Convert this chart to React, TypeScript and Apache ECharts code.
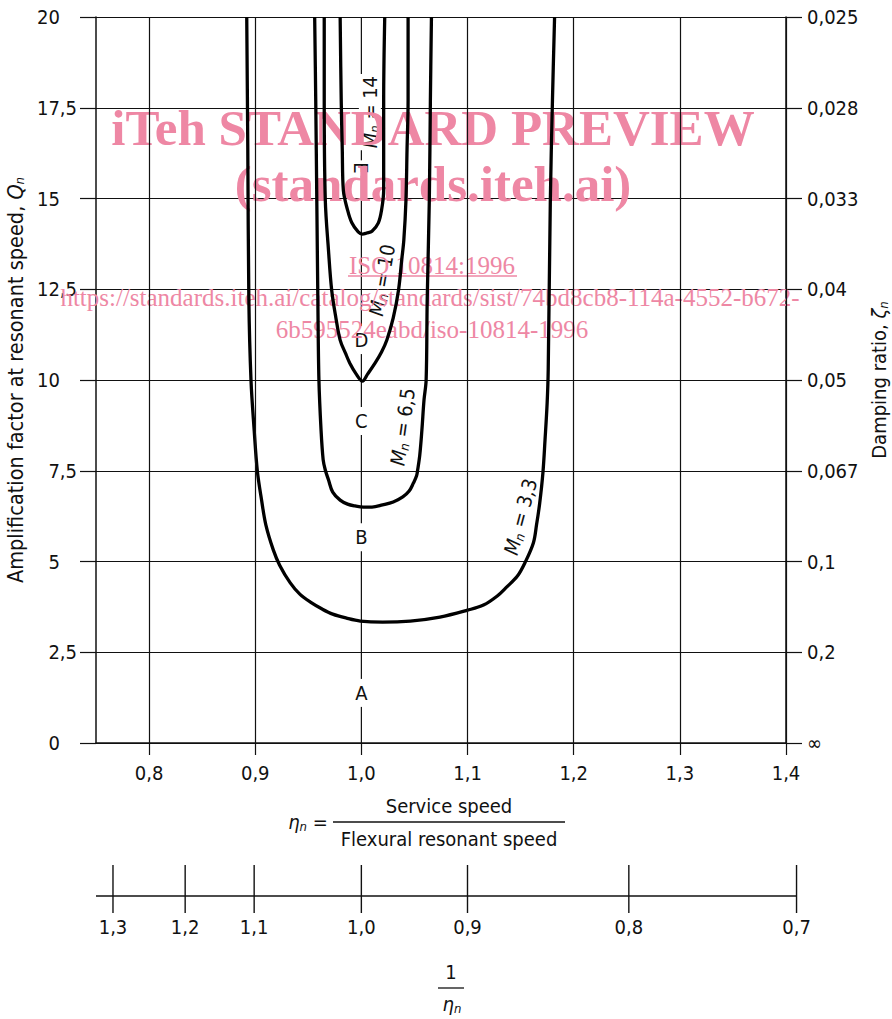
import React, { useEffect, useRef } from 'react';
import * as echarts from 'echarts';

const FONT = "'DejaVu Sans Condensed', 'Liberation Sans Narrow', 'DejaVu Sans', sans-serif";
const SERIF = "'Liberation Serif', 'DejaVu Serif', serif";
const INK = '#111111';
const PINK = '#ee87a4';
const FS = 20;
const WM_Z = 2.8;

// main axis (eta_n)
const etaTicks = [0.8, 0.9, 1.0, 1.1, 1.2, 1.3, 1.4];
const etaGridLines = [0.8, 0.9, 1.1, 1.2, 1.3, 1.4];
// right axis labels (damping ratio), one per 2.5 step of Q from 0 to 20
const dampingLabels = ['∞', '0,2', '0,1', '0,067', '0,05', '0,04', '0,033', '0,028', '0,025'];
// secondary scale 1/eta_n : labels and their position read on the eta_n scale
const recipLabels = ['1,3', '1,2', '1,1', '1,0', '0,9', '0,8', '0,7'];
const recipPositions = [0.766, 0.834, 0.899, 1.0, 1.1, 1.252, 1.41];

// curves [eta_n, Q_n]
const curveM33: [number, number][] = [
  [0.892, 20], [0.893, 16.34], [0.894, 12.2], [0.896, 10.0], [0.899, 8.62], [0.902, 7.49],
  [0.906, 6.69], [0.910, 6.01], [0.917, 5.32], [0.923, 4.9], [0.933, 4.41], [0.942, 4.1],
  [0.952, 3.88], [0.963, 3.69], [0.973, 3.55], [0.986, 3.44], [0.999, 3.36], [1.02, 3.33],
  [1.046, 3.36], [1.074, 3.47], [1.1, 3.66], [1.115, 3.8], [1.128, 4.05], [1.137, 4.3],
  [1.147, 4.6], [1.154, 4.96], [1.162, 5.51], [1.165, 6.01], [1.168, 6.61], [1.171, 7.44],
  [1.173, 8.35], [1.175, 9.37], [1.176, 10.28], [1.178, 14.96], [1.18, 17.71], [1.182, 20],
];
const curveM65: [number, number][] = [
  [0.956, 20], [0.957, 17.71], [0.958, 14.96], [0.959, 12.2], [0.96, 10.0], [0.962, 8.62],
  [0.964, 7.8], [0.966, 7.52], [0.969, 7.25], [0.973, 6.91], [0.98, 6.69], [0.987, 6.58],
  [0.994, 6.53], [1.002, 6.5], [1.01, 6.5], [1.02, 6.56], [1.03, 6.64], [1.039, 6.78],
  [1.045, 6.94], [1.049, 7.16], [1.052, 7.36], [1.053, 7.52], [1.055, 7.93], [1.057, 8.62],
  [1.059, 9.45], [1.061, 10.0], [1.062, 12.2], [1.064, 14.96], [1.065, 17.71], [1.066, 20],
];
const curveM10: [number, number][] = [
  [0.965, 20], [0.965, 17.71], [0.966, 14.96], [0.969, 13.58], [0.972, 12.48], [0.976, 11.71],
  [0.98, 11.1], [0.985, 10.74], [0.989, 10.47], [0.995, 10.17], [1.001, 9.97], [1.006, 10.17],
  [1.013, 10.47], [1.019, 10.77], [1.024, 11.1], [1.03, 11.71], [1.035, 12.48], [1.038, 13.31],
  [1.04, 13.86], [1.042, 14.96], [1.043, 16.34], [1.044, 17.71], [1.044, 20],
];
const curveM14: [number, number][] = [
  [0.98, 20], [0.981, 17.71], [0.982, 16.34], [0.983, 15.23], [0.987, 14.68], [0.991, 14.33],
  [0.997, 14.08], [1.001, 14.02], [1.005, 14.05], [1.01, 14.1], [1.016, 14.33], [1.019, 14.68],
  [1.021, 15.23], [1.021, 16.34], [1.021, 17.71], [1.022, 20],
];

// zone letters on the centre line
const zoneLetters = ['A', 'B', 'C', 'D', 'E'];
const zoneLetterQ = [1.38, 5.67, 8.87, 11.1, 15.84];
const zoneLetterRotate = [0, 0, 0, 0, -90];

// curve labels M_n = ...
const curveLabelValues = ['14', '10', '6,5', '3,3'];
const curveLabelAt: [number, number][] = [[1.008, 17.38], [1.0195, 12.75], [1.039, 8.71], [1.15, 6.23]];
const curveLabelRotate = [90, 80, 82, 75];
const curveLabelMasked = [true, false, false, false];

const fmtComma = (v: number, d: number) => v.toFixed(d).replace('.', ',');

function buildOption() {
  const curveSeries = [curveM33, curveM65, curveM10, curveM14].map((data) => ({
    type: 'line',
    xAxisIndex: 0,
    yAxisIndex: 0,
    data,
    smooth: 0.35,
    symbol: 'none',
    lineStyle: { color: '#000', width: 3.3 },
    z: 3,
    silent: true,
  }));

  const subRich = (fill: boolean, size: number = FS) => {
    const c = fill ? { fill: INK } : { color: INK };
    return {
      m: { fontFamily: FONT, fontSize: size, fontStyle: 'italic', lineHeight: 22, ...c },
      q: { fontFamily: FONT, fontSize: size, fontStyle: 'italic', lineHeight: 22, ...c },
      e: { fontFamily: FONT, fontSize: size, fontStyle: 'italic', lineHeight: 22, ...c },
      s: { fontFamily: FONT, fontSize: 13, fontStyle: 'italic', lineHeight: 12, verticalAlign: 'bottom', ...c },
      t: { fontFamily: FONT, fontSize: size, lineHeight: 22, ...c },
    };
  };

  const centred = { align: 'center', verticalAlign: 'middle', textAlign: 'center', textVerticalAlign: 'middle' };

  return {
    animation: false,
    backgroundColor: '#ffffff',
    textStyle: { fontFamily: FONT, color: INK },
    grid: [
      { left: 96, right: 106, top: 17, bottom: 276, outerBoundsMode: 'none', containLabel: false },
      { left: 96, right: 53, top: 866, height: 60, outerBoundsMode: 'none', containLabel: false },
    ],
    xAxis: [
      {
        type: 'value',
        gridIndex: 0,
        min: 0.75,
        max: 1.4,
        axisLine: { show: true, onZero: false, lineStyle: { color: INK, width: 1.5 } },
        axisTick: { show: true, customValues: etaTicks, length: 12, lineStyle: { color: INK, width: 1.2 } },
        axisLabel: {
          customValues: etaTicks,
          formatter: (v: number) => fmtComma(v, 1),
          margin: 20,
          color: INK,
          fontSize: FS,
          fontFamily: FONT,
        },
        splitLine: { show: false },
      },
      {
        type: 'value',
        gridIndex: 1,
        min: 0.75,
        max: 1.45,
        show: false,
      },
    ],
    yAxis: [
      {
        type: 'value',
        gridIndex: 0,
        position: 'left',
        min: 0,
        max: 20,
        interval: 2.5,
        axisLine: { show: true, lineStyle: { color: INK, width: 1.5 } },
        axisTick: { show: true, length: 16, lineStyle: { color: INK, width: 1.2 } },
        axisLabel: {
          margin: 19,
          color: INK,
          fontSize: FS,
          fontFamily: FONT,
          formatter: (v: number) => (v % 1 === 0 ? `${v}{h|,5}` : fmtComma(v, 1)),
          rich: { h: { color: 'rgba(0,0,0,0)', fontSize: FS, fontFamily: FONT } },
        },
        splitLine: { show: true, lineStyle: { color: INK, width: 1.2 } },
        name: '{t|Amplification factor at resonant speed, }{q|Q}{s|n}',
        nameLocation: 'middle',
        nameRotate: 90,
        nameGap: 66,
        nameTextStyle: { rich: subRich(false, 21.5) },
      },
      {
        type: 'value',
        gridIndex: 0,
        position: 'right',
        min: 0,
        max: 20,
        interval: 2.5,
        axisLine: { show: true, lineStyle: { color: INK, width: 1.5 } },
        axisTick: { show: true, length: 16, lineStyle: { color: INK, width: 1.2 } },
        axisLabel: {
          margin: 21,
          color: INK,
          fontSize: FS,
          fontFamily: FONT,
          formatter: (v: number) => dampingLabels[Math.round(v / 2.5)],
        },
        splitLine: { show: false },
        name: '{t|Damping ratio, }{q|ζ}{s|n}',
        nameLocation: 'middle',
        nameRotate: 90,
        nameGap: 82,
        nameTextStyle: { rich: subRich(false) },
      },
      {
        type: 'value',
        gridIndex: 1,
        min: -1,
        max: 1,
        show: false,
      },
    ],
    series: [
      {
        type: 'line',
        xAxisIndex: 0,
        yAxisIndex: 0,
        data: [[1.0, 0], [1.0, 20]],
        symbol: 'none',
        lineStyle: { color: INK, width: 1.2 },
        z: 2,
        silent: true,
        markLine: {
          silent: true,
          symbol: ['none', 'none'],
          label: { show: false },
          lineStyle: { color: INK, width: 1.2, type: 'solid' },
          data: etaGridLines.map((v) => ({ xAxis: v })),
        },
      },
      ...curveSeries,
      {
        type: 'scatter',
        xAxisIndex: 0,
        yAxisIndex: 0,
        symbolSize: 1,
        itemStyle: { color: 'rgba(0,0,0,0)', opacity: 1 },
        z: 2.5,
        silent: true,
        data: zoneLetters.map((l, i) => ({
          name: l,
          value: [1.0, zoneLetterQ[i]],
          label: { rotate: zoneLetterRotate[i] },
        })),
        label: {
          show: true,
          position: 'inside',
          formatter: (p: any) => p.name,
          fontFamily: FONT,
          fontSize: FS,
          color: INK,
          opacity: 1,
          backgroundColor: '#ffffff',
          padding: [4, 2],
        },
      },
      {
        type: 'scatter',
        xAxisIndex: 0,
        yAxisIndex: 0,
        symbolSize: 1,
        itemStyle: { color: 'rgba(0,0,0,0)', opacity: 1 },
        z: 2.5,
        silent: true,
        data: curveLabelValues.map((l, i) => ({
          name: l,
          value: curveLabelAt[i],
          label: {
            rotate: curveLabelRotate[i],
            backgroundColor: curveLabelMasked[i] ? '#ffffff' : 'transparent',
          },
        })),
        label: {
          show: true,
          position: 'inside',
          opacity: 1,
          formatter: (p: any) => `{m|M}{s|n}{t| = ${p.name}}`,
          rich: subRich(false),
          padding: [0, 2],
        },
      },
      {
        type: 'line',
        xAxisIndex: 1,
        yAxisIndex: 2,
        data: [[0.75, 0], [recipPositions[recipPositions.length - 1], 0]],
        symbol: 'none',
        lineStyle: { color: INK, width: 1.3 },
        silent: true,
      },
      {
        type: 'scatter',
        xAxisIndex: 1,
        yAxisIndex: 2,
        symbol: 'rect',
        symbolSize: [1.4, 48],
        symbolOffset: [0, -7],
        itemStyle: { color: INK, opacity: 1 },
        silent: true,
        data: recipLabels.map((l, i) => ({ name: l, value: [recipPositions[i], 0] })),
        label: {
          show: true,
          position: 'bottom',
          distance: 4,
          formatter: (p: any) => p.name,
          fontFamily: FONT,
          fontSize: FS,
          color: INK,
          opacity: 1,
        },
      },
    ],
    graphic: {
      elements: [
        // x-axis title
        {
          type: 'text',
          x: 308,
          y: 822,
          style: { text: '{e|η}{s|n}{t| =}', ...centred, rich: subRich(true) },
        },
        {
          type: 'text',
          x: 449,
          y: 806,
          style: { text: 'Service speed', font: `${FS}px ${FONT}`, fill: INK, ...centred },
        },
        {
          type: 'line',
          shape: { x1: 333, y1: 822, x2: 565, y2: 822 },
          style: { stroke: INK, lineWidth: 1.3 },
        },
        {
          type: 'text',
          x: 449,
          y: 839,
          style: { text: 'Flexural resonant speed', font: `${FS}px ${FONT}`, fill: INK, ...centred },
        },
        // 1 / eta_n
        {
          type: 'text',
          x: 451,
          y: 972,
          style: { text: '1', font: `${FS}px ${FONT}`, fill: INK, ...centred },
        },
        {
          type: 'line',
          shape: { x1: 438, y1: 988, x2: 464, y2: 988 },
          style: { stroke: INK, lineWidth: 1.3 },
        },
        {
          type: 'text',
          x: 452,
          y: 1004,
          style: { text: '{e|η}{s|n}', ...centred, rich: subRich(true) },
        },
        // watermark
        {
          type: 'text', x: 433, y: 128, z: WM_Z,
          style: { text: 'iTeh STANDARD PREVIEW', font: `bold 51px ${SERIF}`, fill: PINK, ...centred },
        },
        {
          type: 'text', x: 433, y: 184, z: WM_Z,
          style: { text: '(standards.iteh.ai)', font: `bold 51px ${SERIF}`, fill: PINK, ...centred },
        },
        {
          type: 'text', x: 432, y: 265, z: WM_Z,
          style: { text: 'ISO 10814:1996', font: `25px ${SERIF}`, fill: PINK, ...centred },
        },
        {
          type: 'line', z: WM_Z,
          shape: { x1: 348, y1: 276, x2: 517, y2: 276 },
          style: { stroke: PINK, lineWidth: 1.5 },
        },
        {
          type: 'text', x: 430, y: 297, z: WM_Z,
          style: { text: 'https://standards.iteh.ai/catalog/standards/sist/74bd8cb8-114a-4552-b672-', font: `25px ${SERIF}`, fill: PINK, ...centred },
        },
        {
          type: 'text', x: 432, y: 329, z: WM_Z,
          style: { text: '6b595524eabd/iso-10814-1996', font: `25px ${SERIF}`, fill: PINK, ...centred },
        },
      ],
    },
  };
}

export default function App() {
  const ref = useRef<HTMLDivElement>(null);
  useEffect(() => {
    document.body.style.margin = '0';
    const chart = echarts.init(ref.current as HTMLDivElement, null, { renderer: 'svg' });
    chart.setOption(buildOption() as any);
    return () => {
      chart.dispose();
    };
  }, []);
  return <div ref={ref} style={{ width: 892, height: 1019 }} />;
}
